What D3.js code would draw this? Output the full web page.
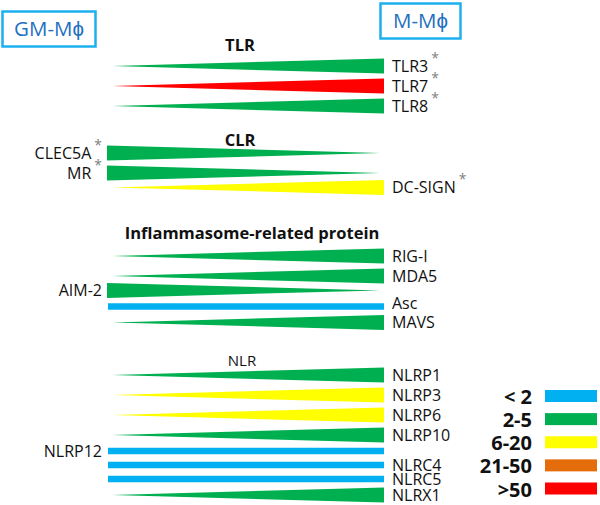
<!DOCTYPE html>
<html><head><meta charset="utf-8">
<script src="https://cdn.jsdelivr.net/npm/d3@7"></script>
<style>body{margin:0;background:#fff} svg{display:block;font-family:'Open Sans',sans-serif}</style>
</head><body><svg id="c" width="600" height="505"></svg>
<script>
// ---- data ----
const cellTypes = ["GM-Mϕ", "M-Mϕ"];
const sectionTitles = ["TLR", "CLR", "Inflammasome-related protein", "NLR"];
const sectionTitleBold = [true, true, true, false];
const genes = ["TLR3","TLR7","TLR8","CLEC5A","MR","DC-SIGN","RIG-I","MDA5","AIM-2","Asc","MAVS","NLRP1","NLRP3","NLRP6","NLRP10","NLRP12","NLRC4","NLRC5","NLRX1"];
const geneSection = [0,0,0,1,1,1,2,2,2,2,2,3,3,3,3,3,3,3,3];
// index into legend classes (fold change)
const foldClass = [1,4,1,1,1,2,1,1,1,0,1,1,2,2,1,0,0,0,1];
// up = higher in M-Mϕ, down = higher in GM-Mϕ, flat = no difference
const trend = ["up","up","up","down","down","up","up","up","down","flat","up","up","up","up","up","flat","flat","flat","up"];
const significant = ["TLR3","TLR7","TLR8","CLEC5A","MR","DC-SIGN"];
const leftLabelled = ["CLEC5A","MR","AIM-2","NLRP12"];
const legendLabels = ["< 2","2-5","6-20","21-50",">50"];
const legendColors = ["#00b0f0","#00b050","#ffff00","#e46c0a","#ff0000"];

// ---- layout ----
const svg = d3.select("#c");
const sectionFirstY = [66, 153, 256, 375];
const sectionTitleY = [45, 140, 233, 361];
const sectionTitleX = [240, 240, 252, 242];
const x = d3.scaleLinear().domain([0, 1]).range([108, 384]);
const color = d3.scaleOrdinal().domain(d3.range(legendLabels.length)).range(legendColors);
const triH = 15, barH = 6.5, tipInset = 4;

// row units: consecutive triangles with same trend = 1 unit
function gapUnits(a, b) {
  const fa = trend[a] === "flat", fb = trend[b] === "flat";
  if (fa && fb) return 0.7;
  if (fa || fb) return 0.8;
  return trend[a] === trend[b] ? 1 : 0.72;
}
const rowUnit = [];
genes.forEach((g, i) => {
  if (i === 0 || geneSection[i] !== geneSection[i - 1]) rowUnit.push(0);
  else rowUnit.push(rowUnit[i - 1] + gapUnits(i - 1, i));
});
const yScales = sectionTitles.map((s, k) =>
  d3.scaleLinear().domain([0, 1]).range([sectionFirstY[k], sectionFirstY[k] + 20]));
const yOf = i => yScales[geneSection[i]](rowUnit[i]);

const rows = genes.map((g, i) => ({ g, i, y: yOf(i), t: trend[i], c: color(foldClass[i]) }));

// shapes
svg.append("g").selectAll("path").data(rows).join("path")
  .attr("fill", d => d.c)
  .attr("d", d => {
    const x0 = x(0), x1 = x(1), y = d.y;
    if (d.t === "flat") {
      return `M${x0},${y - barH / 2}H${x1}V${y + barH / 2}H${x0}Z`;
    }
    if (d.t === "up") {
      return `M${x0 + tipInset},${y}L${x1},${y - triH / 2}L${x1},${y + triH / 2}Z`;
    }
    return `M${x0 - 1},${y - triH / 2}L${x1 - tipInset},${y}L${x0 - 1},${y + triH / 2}Z`;
  });

// labels
const lab = svg.append("g").selectAll("text").data(rows).join("text")
  .attr("x", d => leftLabelled.includes(d.g) ? 102 : 392)
  .attr("y", d => d.t === "flat" && !leftLabelled.includes(d.g) && d.g === "Asc" ? d.y - 3 : d.y)
  .attr("dy", "0.35em")
  .attr("text-anchor", d => leftLabelled.includes(d.g) ? "end" : "start")
  .attr("font-size", 16)
  .attr("fill", "#111");
lab.append("tspan").text(d => d.g);
lab.filter(d => significant.includes(d.g)).append("tspan")
  .attr("dx", 3).attr("dy", -9).attr("font-size", 14).attr("fill", "#808080").text("*");

// section titles
svg.append("g").selectAll("text").data(sectionTitles).join("text")
  .attr("x", (d, k) => sectionTitleX[k])
  .attr("y", (d, k) => sectionTitleY[k])
  .attr("dy", "0.35em")
  .attr("text-anchor", "middle")
  .attr("font-size", (d, k) => sectionTitleBold[k] ? 16.5 : 15)
  .attr("font-weight", (d, k) => sectionTitleBold[k] ? "bold" : "normal")
  .attr("fill", "#111")
  .text(d => d);

// cell type boxes
const boxes = [{ x: 2.5, y: 11.5, w: 93, h: 35 }, { x: 380.5, y: 3.5, w: 80, h: 35 }];
const bg = svg.append("g").selectAll("g").data(cellTypes).join("g");
bg.append("rect")
  .attr("x", (d, k) => boxes[k].x).attr("y", (d, k) => boxes[k].y)
  .attr("width", (d, k) => boxes[k].w).attr("height", (d, k) => boxes[k].h)
  .attr("fill", "none").attr("stroke", "#1cb0ef").attr("stroke-width", 2.5);
bg.append("text")
  .attr("x", (d, k) => boxes[k].x + boxes[k].w / 2)
  .attr("y", (d, k) => boxes[k].y + boxes[k].h / 2)
  .attr("dy", "0.35em").attr("text-anchor", "middle")
  .attr("font-size", 20.5).attr("fill", "#1f6fc2")
  .text(d => d);

// legend
const ly = d3.scalePoint().domain(legendLabels).range([396, 488.5]);
const lg = svg.append("g").selectAll("g").data(legendLabels).join("g");
lg.append("rect").attr("x", 545).attr("y", d => ly(d) - 6).attr("width", 52).attr("height", 12)
  .attr("fill", (d, k) => legendColors[k]);
lg.append("text").attr("x", 532).attr("y", d => ly(d) + 1).attr("dy", "0.35em")
  .attr("text-anchor", "end").attr("font-size", 20).attr("font-weight", "bold").attr("fill", "#111")
  .text(d => d);
</script></body></html>
